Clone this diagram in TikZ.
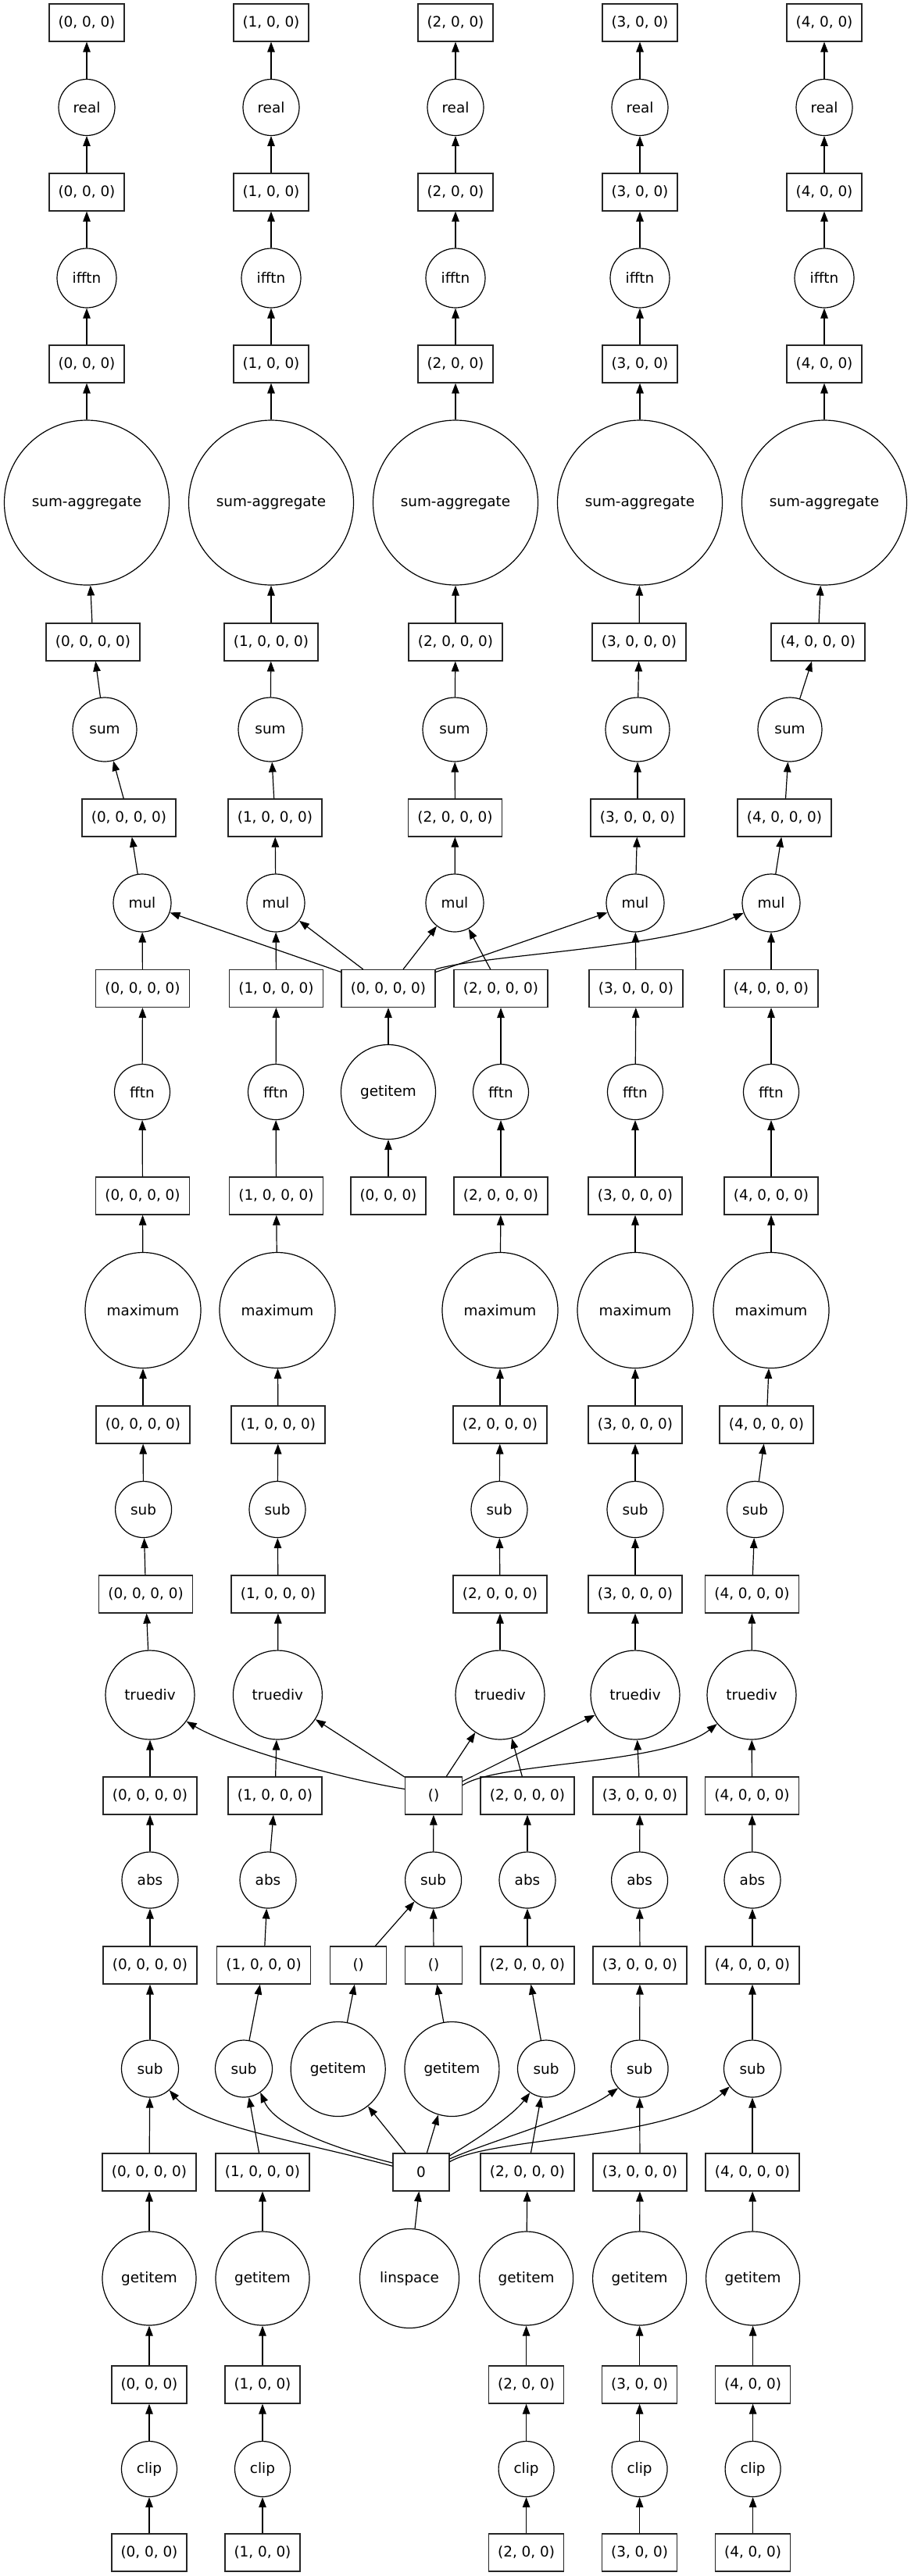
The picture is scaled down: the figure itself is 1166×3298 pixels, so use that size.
\documentclass[tikz,border=0pt]{standalone}
\usepackage{fontspec}
\setmainfont{DejaVu Sans}
\usetikzlibrary{arrows.meta}
\tikzset{
  every node/.style={font=\fontsize{18.4pt}{22pt}\selectfont},
  bx/.style={draw=black!85, rectangle, minimum height=48pt, inner sep=0pt, line width=1.2pt},
  bthree/.style={bx, minimum width=96pt},
  bfour/.style={bx, minimum width=120pt},
  cn/.style={draw, circle, inner sep=0pt, line width=1.2pt},
  ed/.style={-{Triangle[length=13pt,width=9.5pt]}, line width=1.2pt},
}
\begin{document}
\begin{tikzpicture}[x=1pt,y=-1pt]
\useasboundingbox (0,0) rectangle (1166,3298);
% top part
\foreach \i/\x in {0/111,1/347,2/583,3/819,4/1055}{
  \node[bthree] (ta\i) at (\x,29) {(\i, 0, 0)};
  \node[cn, minimum size=72pt] (re\i) at (\x,137.5) {real};
  \node[bthree] (tb\i) at (\x,246) {(\i, 0, 0)};
  \node[cn, minimum size=76pt] (if\i) at (\x,356) {ifftn};
  \node[bthree] (tc\i) at (\x,466) {(\i, 0, 0)};
  \node[cn, minimum size=211pt] (sa\i) at (\x,643.5) {sum-aggregate};
}
\foreach \i/\x in {0/119,1/347,2/583,3/818,4/1047}
  \node[bfour] (bd\i) at (\x,822) {(\i, 0, 0, 0)};
\foreach \i/\x in {0/134,1/346,2/582,3/816,4/1011}
  \node[cn, minimum size=82pt] (su\i) at (\x,934) {sum};
\foreach \i/\x in {0/165,1/352,2/582.5,3/816,4/1004}
  \node[bfour] (be\i) at (\x,1047) {(\i, 0, 0, 0)};
\foreach \i/\x in {0/182,1/353,2/582,3/813,4/987}
  \node[cn, minimum size=74pt] (mu\i) at (\x,1156) {mul};
\foreach \i/\x in {0/182.5,1/353.5,2/641,3/814,4/987}
  \node[bfour] (bf\i) at (\x,1265.5) {(\i, 0, 0, 0)};
\node[bfour] (cf) at (497,1265.5) {(0, 0, 0, 0)};
\foreach \i/\x in {0/182,1/353,2/641,3/813,4/987}
  \node[cn, minimum size=71pt] (ff\i) at (\x,1398) {fftn};
\node[cn, minimum size=121pt] (gc) at (497,1398) {getitem};
\foreach \i/\x in {0/182.5,1/353.5,2/641,3/813,4/987}
  \node[bfour] (bg\i) at (\x,1531) {(\i, 0, 0, 0)};
\node[bthree] (cg) at (497,1531) {(0, 0, 0)};
\foreach \i/\x in {0/183,1/355,2/640,3/813,4/987}
  \node[cn, minimum size=148pt] (mx\i) at (\x,1677.5) {maximum};
\foreach \i/\x in {0/183,1/356,2/640,3/813,4/981}
  \node[bfour] (bh\i) at (\x,1824) {(\i, 0, 0, 0)};
\foreach \i/\x in {0/183.6,1/355,2/639,3/813,4/966.5}
  \node[cn, minimum size=72pt] (sb\i) at (\x,1932.5) {sub};
\foreach \i/\x in {0/186.6,1/356,2/640,3/813,4/962.5}
  \node[bfour] (bi\i) at (\x,2041) {(\i, 0, 0, 0)};
\foreach \i/\x in {0/192,1/355.4,2/640,3/813,4/962}
  \node[cn, minimum size=114pt] (td\i) at (\x,2170) {truediv};
\foreach \i/\x in {0/192,1/352,2/675,3/819,4/962.5}
  \node[bfour] (bj\i) at (\x,2299) {(\i, 0, 0, 0)};
\node[bx, minimum width=73pt] (pj) at (555,2299) {()};
\foreach \i/\x in {0/192,1/343,2/675,3/818.6,4/963}
  \node[cn, minimum size=72pt] (ab\i) at (\x,2407) {abs};
\node[cn, minimum size=72pt] (sc) at (554.6,2407) {sub};
\foreach \i/\x in {0/192,1/337.6,2/675,3/819,4/963}
  \node[bfour] (bk\i) at (\x,2516) {(\i, 0, 0, 0)};
\node[bx, minimum width=72pt] (pkl) at (458.7,2516) {()};
\node[bx, minimum width=73pt] (pkr) at (555,2516) {()};
\foreach \i/\x in {0/192,1/312,2/699,3/818.6,4/963}
  \node[cn, minimum size=73pt] (sl\i) at (\x,2648.5) {sub};
\node[cn, minimum size=121pt] (gl) at (432.7,2649) {getitem};
\node[cn, minimum size=121pt] (gr) at (578.4,2649) {getitem};
\foreach \i/\x in {0/191,1/336,2/675,3/819,4/963}
  \node[bfour] (bm\i) at (\x,2781) {(\i, 0, 0, 0)};
\node[bx, minimum width=72pt] (zr) at (539,2781) {0};
\node[cn, minimum size=127pt] (ls) at (524,2917) {linspace};
\foreach \i/\x in {0/191,1/336,2/673.6,3/818.6,4/963.6}{
  \node[cn, minimum size=120pt] (gi\i) at (\x,2917) {getitem};
  \node[bthree] (bn\i) at (\x,3053) {(\i, 0, 0)};
  \node[cn, minimum size=71pt] (cl\i) at (\x,3161) {clip};
  \node[bthree] (bo\i) at (\x,3268) {(\i, 0, 0)};
}
% chain edges
\foreach \i in {0,...,4}{
  \draw[ed] (bo\i) -- (cl\i);
  \draw[ed] (cl\i) -- (bn\i);
  \draw[ed] (bn\i) -- (gi\i);
  \draw[ed] (gi\i) -- (bm\i);
  \draw[ed] (bm\i) -- (sl\i);
  \draw[ed] (sl\i) -- (bk\i);
  \draw[ed] (bk\i) -- (ab\i);
  \draw[ed] (ab\i) -- (bj\i);
  \draw[ed] (bj\i) -- (td\i);
  \draw[ed] (td\i) -- (bi\i);
  \draw[ed] (bi\i) -- (sb\i);
  \draw[ed] (sb\i) -- (bh\i);
  \draw[ed] (bh\i) -- (mx\i);
  \draw[ed] (mx\i) -- (bg\i);
  \draw[ed] (bg\i) -- (ff\i);
  \draw[ed] (ff\i) -- (bf\i);
  \draw[ed] (bf\i) -- (mu\i);
  \draw[ed] (mu\i) -- (be\i);
  \draw[ed] (be\i) -- (su\i);
  \draw[ed] (su\i) -- (bd\i);
  \draw[ed] (bd\i) -- (sa\i);
  \draw[ed] (sa\i) -- (tc\i);
  \draw[ed] (tc\i) -- (if\i);
  \draw[ed] (if\i) -- (tb\i);
  \draw[ed] (tb\i) -- (re\i);
  \draw[ed] (re\i) -- (ta\i);
}
% centre structure
\draw[ed] (ls) -- (zr);
\draw[ed] (zr) -- (gl);
\draw[ed] (zr) -- (gr);
\draw[ed] (zr.168) .. controls (387,2742) and (256,2722) .. (sl0.-48);
\draw[ed] (zr.162) .. controls (425,2750) and (352,2722) .. (sl1.-55);
\draw[ed] (zr.30) .. controls (605,2742) and (655,2710) .. (sl2.-124);
\draw[ed] (zr.25) .. controls (630,2740) and (740,2710) .. (sl3.-138);
\draw[ed] (zr.20) .. controls (630,2735) and (860,2740) .. (sl4.-142);
\draw[ed] (gl) -- (pkl);
\draw[ed] (gr) -- (pkr);
\draw[ed] (pkl) -- (sc);
\draw[ed] (pkr) -- (sc);
\draw[ed] (sc) -- (pj);
\draw[ed] (pj.167) .. controls (450,2280) and (300,2240) .. (td0.-36);
\draw[ed] (pj) -- (td1);
\draw[ed] (pj) -- (td2);
\draw[ed] (pj) -- (td3);
\draw[ed] (pj.20) .. controls (640,2255) and (850,2260) .. (td4.-140);
\draw[ed] (cg) -- (gc);
\draw[ed] (gc) -- (cf);
\draw[ed] (cf) -- (mu0);
\draw[ed] (cf) -- (mu1);
\draw[ed] (cf) -- (mu2);
\draw[ed] (cf) -- (mu3);
\draw[ed] (cf.north east) .. controls (620,1222) and (850,1215) .. (mu4.-160);
\end{tikzpicture}
\end{document}
